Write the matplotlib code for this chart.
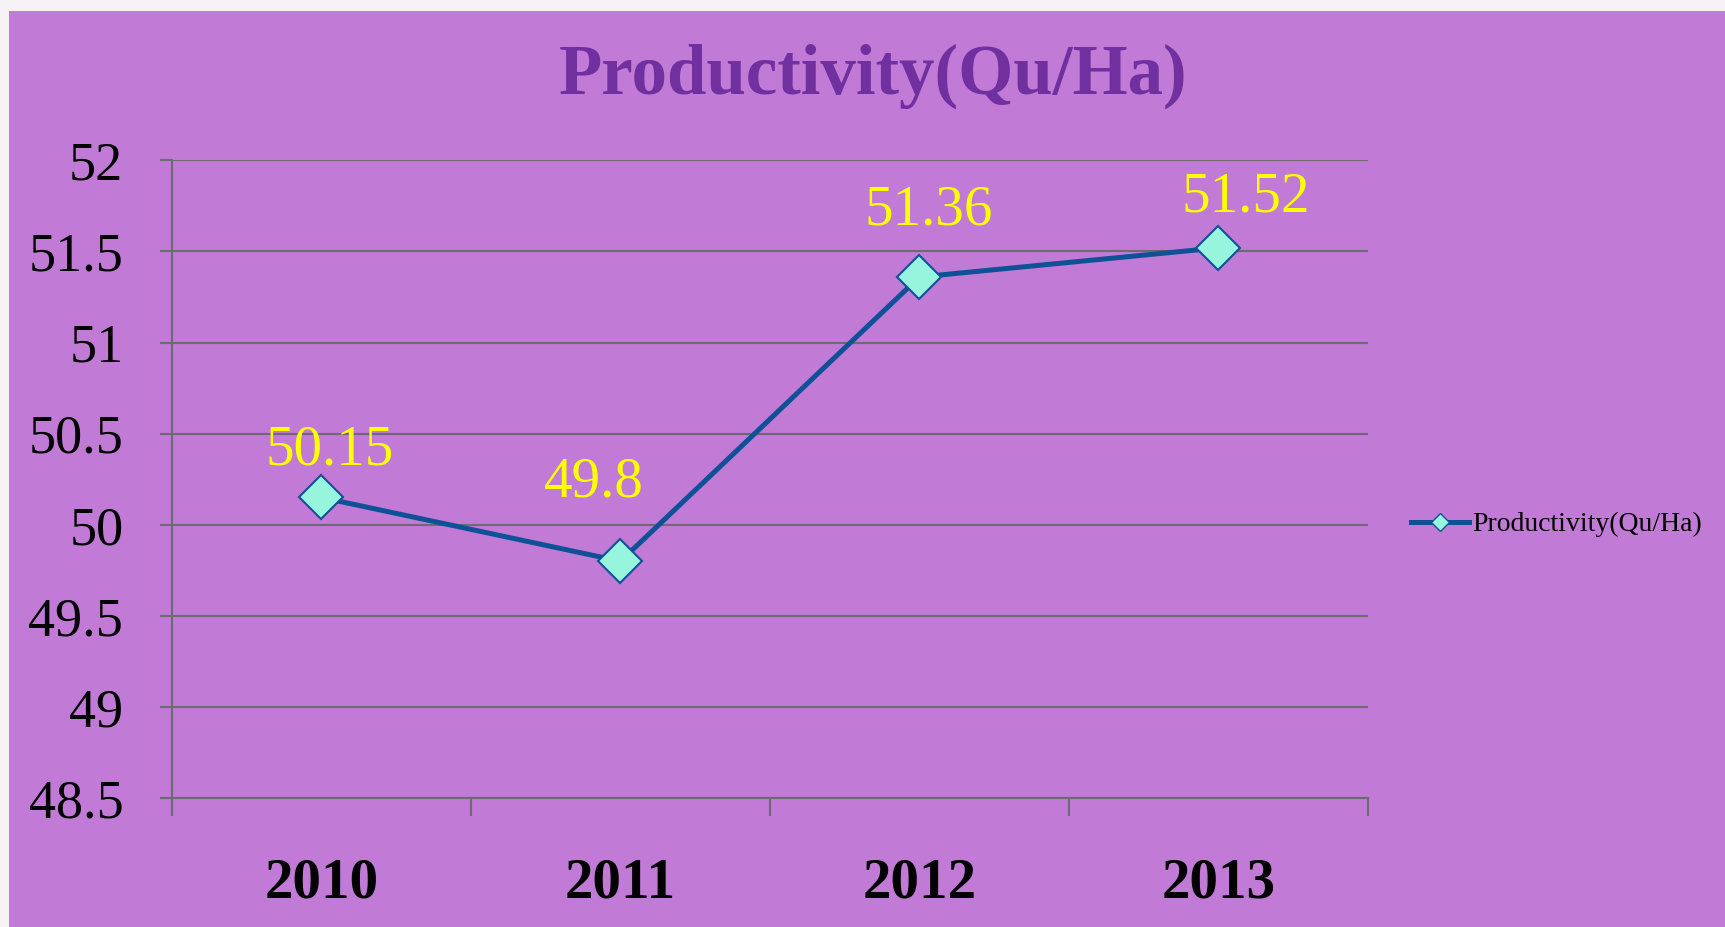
import matplotlib.pyplot as plt
from matplotlib.lines import Line2D
from matplotlib.patches import Rectangle

years = ['2010', '2011', '2012', '2013']
productivity = [50.15, 49.8, 51.36, 51.52]
y_ticks = [48.5, 49, 49.5, 50, 50.5, 51, 51.5, 52]
series_name = 'Productivity(Qu/Ha)'

# data label offsets in points (where the labels sit around each marker)
label_offsets = [(6, 34), (-19, 57), (7, 48), (20, 36)]

bg = '#C17AD6'
line_col = '#0E5196'
marker_col = '#96F5DC'
grid_col = '#6E6A72'

plt.rcParams['font.family'] = ['Liberation Serif', 'DejaVu Serif']

fig = plt.figure(figsize=(17.25, 9.27), dpi=100, facecolor='#F6F2F6')
# purple slide background, thin light border left/top
fig.patches.append(Rectangle((9 / 1725, 0), 1, 1 - 11 / 927, transform=fig.transFigure,
                             facecolor=bg, edgecolor='none', zorder=-10))

ax = fig.add_axes([0.0997, 0.139, 0.6933, 0.688])
ax.set_facecolor(bg)
ax.patch.set_alpha(0)

x = list(range(len(years)))
ax.plot(x, productivity, color=line_col, lw=3.6, marker='D', ms=22,
        mfc=marker_col, mec=line_col, mew=1.5, zorder=3)

for xi, v, off in zip(x, productivity, label_offsets):
    ax.annotate(f'{v:g}', (xi, v), xytext=off, textcoords='offset points',
                ha='center', va='center', color='#FFFF00', fontsize=41)

ax.set_xlim(-0.5, len(years) - 0.5)
ax.set_ylim(48.5, 52)
ax.set_yticks(y_ticks)
ax.set_yticklabels([f'{t:g}' for t in y_ticks])
ax.yaxis.grid(True, color=grid_col, lw=1.5)
ax.set_axisbelow(True)

ax.set_xticks([i - 0.5 for i in range(len(years) + 1)])
ax.set_xticklabels([])
ax.set_xticks(x, minor=True)
ax.set_xticklabels(years, minor=True, fontsize=41, fontweight='bold')
ax.tick_params(axis='x', which='major', length=13, width=1.5, color=grid_col, direction='out')
ax.tick_params(axis='x', which='minor', length=0, pad=43)
ax.tick_params(axis='y', length=9, width=1.5, color=grid_col, labelsize=39, pad=26)

for side in ['top', 'right']:
    ax.spines[side].set_visible(False)
for side in ['left', 'bottom']:
    ax.spines[side].set_color(grid_col)
    ax.spines[side].set_linewidth(1.5)

fig.text(0.506, 0.918, series_name, ha='center', va='center', fontsize=51,
         fontweight='bold', color='#7030A0')

handle = Line2D([], [], color=line_col, lw=3.6, marker='D', ms=9, mfc=marker_col,
                mec=line_col, mew=1)
fig.legend([handle], [series_name], loc='center left', bbox_to_anchor=(0.818, 0.434),
           frameon=False, fontsize=20, handlelength=2.1, handletextpad=0.1,
           borderaxespad=0, borderpad=0)

fig.savefig('out.png', dpi=100, facecolor=fig.get_facecolor())
